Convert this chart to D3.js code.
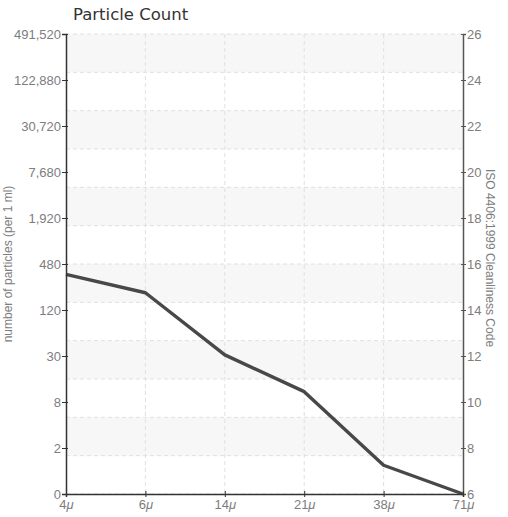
<!DOCTYPE html>
<html><head><meta charset="utf-8">
<script src="https://cdn.jsdelivr.net/npm/d3@7"></script>
<style>
body{margin:0;background:#fff;}
.tk{font-family:"Liberation Sans",Arial,sans-serif;fill:#7d7d7d;font-size:13px;}
</style></head><body>
<svg id="c" width="508" height="517"></svg>
<script>
// Data
const sizes = ["4", "6", "14", "21", "38", "71"];           // particle size, μ
const isoCodes = [15.55, 14.75, 12.05, 10.45, 7.25, 6.0];   // ISO 4406 code per size
const rightTicks = [6, 8, 10, 12, 14, 16, 18, 20, 22, 24, 26];
const leftTickLabels = ["0", "2", "8", "30", "120", "480", "1,920", "7,680", "30,720", "122,880", "491,520"];
const title = "Particle Count";
const leftTitle = "number of particles (per 1 ml)";
const rightTitle = "ISO 4406:1999 Cleanliness Code";

const svg = d3.select("#c");
const m = {l:66, r:463, t:34, b:494};
const x = d3.scalePoint().domain(sizes).range([m.l, m.r]);
const y = d3.scaleLinear().domain([6, 26]).range([m.b, m.t]);

// bands (12 divisions)
const nb = 12;
const bandVals = d3.range(nb + 1).map(i => 6 + i * 20 / nb);
const g = svg.append("g");
for (let i = 0; i < nb; i++) {
  if ((nb - 1 - i) % 2 === 0) {
    g.append("rect").attr("x", m.l).attr("width", m.r - m.l)
      .attr("y", y(bandVals[i+1])).attr("height", y(bandVals[i]) - y(bandVals[i+1]))
      .attr("fill", "#f7f7f7");
  }
}
bandVals.forEach(v => {
  g.append("line").attr("x1", m.l).attr("x2", m.r).attr("y1", y(v)).attr("y2", y(v))
    .attr("stroke", "#e0e0e0").attr("stroke-dasharray", "4,3");
});
sizes.slice(1, -1).forEach(s => {
  g.append("line").attr("x1", x(s)).attr("x2", x(s)).attr("y1", m.t).attr("y2", m.b)
    .attr("stroke", "#e0e0e0").attr("stroke-dasharray", "4,3");
});

// line
svg.append("path").datum(sizes.map((s, i) => [s, isoCodes[i]]))
  .attr("d", d3.line().x(d => x(d[0])).y(d => y(d[1])))
  .attr("fill", "none").attr("stroke", "#484848").attr("stroke-width", 3.4)
  .attr("stroke-linejoin", "round");

// left axis
const la = svg.append("g").attr("transform", `translate(${m.l},0)`)
  .call(d3.axisLeft(y).tickValues(rightTicks).tickFormat((d, i) => leftTickLabels[i]).tickSize(4).tickPadding(1));
la.select(".domain").attr("stroke", "#333").attr("stroke-width", 1.5);
la.selectAll(".tick line").attr("stroke", "#333").attr("x2", 2).attr("x1", -4);
la.selectAll("text").attr("class", "tk").attr("dy", "0.35em");

// right axis
const ra = svg.append("g").attr("transform", `translate(${m.r},0)`)
  .call(d3.axisRight(y).tickValues(rightTicks).tickSize(3).tickPadding(1));
ra.select(".domain").attr("stroke", "#555").attr("stroke-width", 1.5);
ra.selectAll(".tick line").attr("stroke", "#555").attr("x1", -2).attr("x2", 3);
ra.selectAll("text").attr("class", "tk").attr("dy", "0.35em");

// bottom axis
const ba = svg.append("g").attr("transform", `translate(0,${m.b})`)
  .call(d3.axisBottom(x).tickSize(3).tickPadding(1).tickFormat(d => ""));
ba.select(".domain").attr("stroke", "#333").attr("stroke-width", 1.5);
ba.selectAll(".tick line").attr("stroke", "#333").attr("y1", -3).attr("y2", 3);
ba.selectAll(".tick").each(function(d) {
  const t = d3.select(this).append("text").attr("class", "tk").attr("y", 15).attr("text-anchor", "middle");
  t.append("tspan").text(d);
  t.append("tspan").attr("font-style", "italic").text("μ");
});

// titles
svg.append("text").attr("x", 73).attr("y", 20).text(title)
  .attr("font-family", "DejaVu Sans, Verdana, sans-serif").attr("font-size", 16.5).attr("fill", "#333");
svg.append("text").attr("transform", `translate(12,264) rotate(-90)`).attr("text-anchor", "middle")
  .attr("class", "tk").style("font-size", "12px").text(leftTitle);
svg.append("text").attr("transform", `translate(486,258) rotate(90)`).attr("text-anchor", "middle")
  .attr("class", "tk").style("font-size", "12px").text(rightTitle);
</script></body></html>
